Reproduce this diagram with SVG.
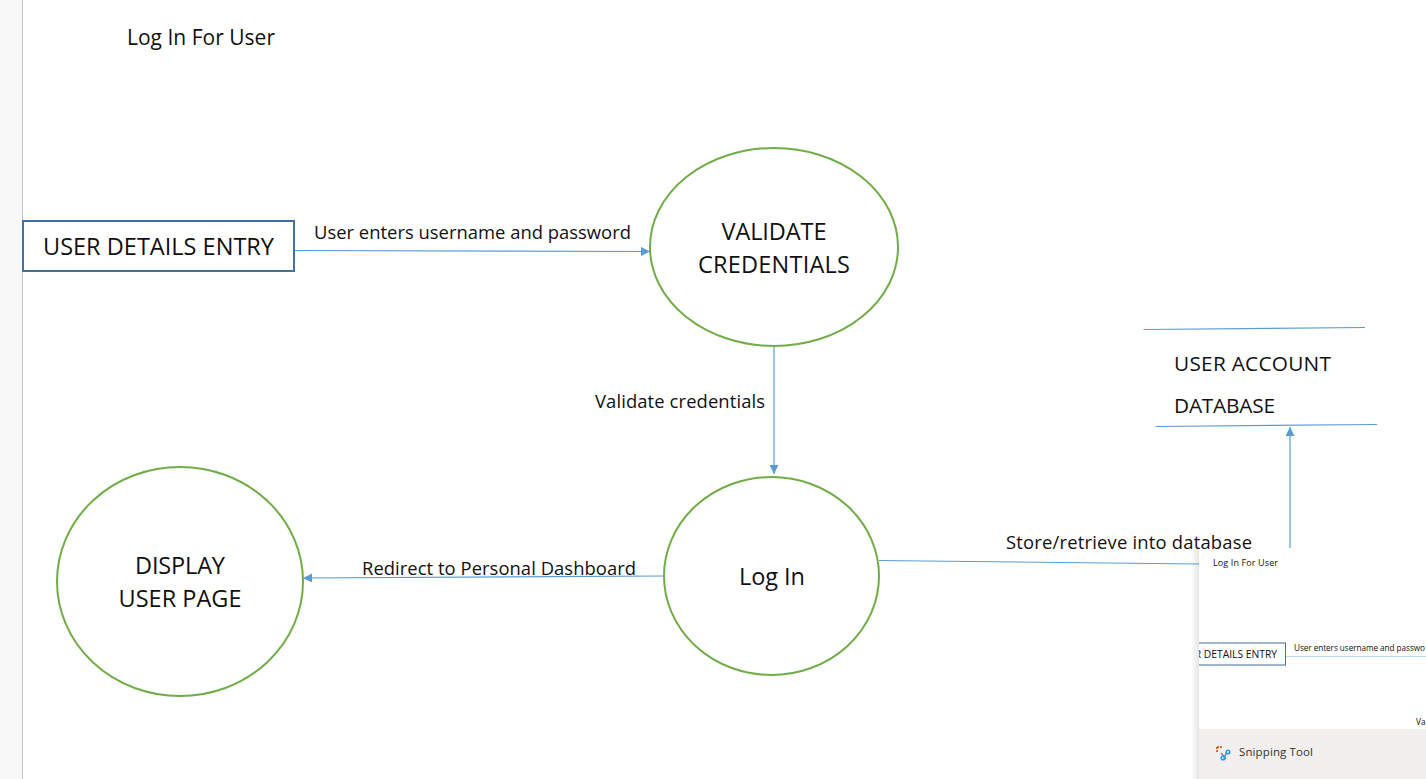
<svg xmlns="http://www.w3.org/2000/svg" width="1426" height="779" viewBox="0 0 1426 779">
<defs>
<marker id="arr" markerWidth="10" markerHeight="10" refX="9" refY="4.5" orient="auto" markerUnits="userSpaceOnUse"><path d="M0,0L9,4.5L0,9Z" fill="#5b9bd5"/></marker>
<linearGradient id="foot" x1="0" y1="0" x2="0" y2="1"><stop offset="0" stop-color="#f1f0ee"/><stop offset="1" stop-color="#f3eeee"/></linearGradient>
<linearGradient id="shade" x1="0" y1="0" x2="1" y2="0"><stop offset="0" stop-color="#000" stop-opacity="0"/><stop offset="1" stop-color="#000" stop-opacity="0.1"/></linearGradient>
<clipPath id="snip"><rect x="1199" y="548" width="227" height="231"/></clipPath>
</defs>
<style>
text{font-family:"Open Sans","Noto Sans","Liberation Sans",sans-serif;fill:#111}
.lbl{font-size:18.400px}
.big{font-size:23.500px;text-anchor:middle}
.ell{fill:#fff;stroke:#70ad47;stroke-width:2}
.con{fill:none;stroke:#5b9bd5;stroke-width:1.2}
</style>
<rect width="1426" height="779" fill="#fff"/>
<rect width="22" height="779" fill="#f8f8f8"/>
<path d="M22.500,0V779" stroke="#c8c8c8" stroke-width="1"/>
<text x="127" y="44.500" textLength="148" style="font-size:21px">Log In For User</text>
<g id="connectors">
<path class="con" d="M295,250.500L650,251.500" marker-end="url(#arr)"/>
<path class="con" d="M774,346V474" marker-end="url(#arr)"/>
<path class="con" d="M664,576L303,578" marker-end="url(#arr)"/>
<path class="con" d="M879,560.500L1199,564"/>
<path class="con" d="M1290,548V427" marker-end="url(#arr)"/>
</g>
<g id="user-details-entry">
<rect x="23" y="221" width="271" height="50" fill="#fff" stroke="#41719c" stroke-width="2"/>
<text class="big" x="158.500" y="255" textLength="231">USER DETAILS ENTRY</text>
</g>
<g id="validate-credentials">
<ellipse class="ell" cx="774" cy="247" rx="124" ry="99"/>
<text class="big" x="774" y="240" textLength="105">VALIDATE</text>
<text class="big" x="774" y="273" textLength="152">CREDENTIALS</text>
</g>
<g id="log-in">
<ellipse class="ell" cx="771.500" cy="576" rx="107.500" ry="99"/>
<text class="big" x="772" y="585" textLength="66">Log In</text>
</g>
<g id="display-user-page">
<ellipse class="ell" cx="180" cy="581.500" rx="123" ry="114.500"/>
<text class="big" x="180" y="574" textLength="90">DISPLAY</text>
<text class="big" x="180" y="607" textLength="123">USER PAGE</text>
</g>
<g id="user-account-database">
<path class="con" d="M1143.500,329.500L1365,327.500"/>
<path class="con" d="M1155.500,426.500L1377,424.500"/>
<text x="1174" y="371" textLength="157" style="font-size:20.800px">USER ACCOUNT</text>
<text x="1174" y="413" textLength="101" style="font-size:20.800px">DATABASE</text>
</g>
<text class="lbl" x="314" y="239" textLength="317">User enters username and password</text>
<text class="lbl" x="595" y="408" textLength="170">Validate credentials</text>
<text class="lbl" x="362" y="575" textLength="274">Redirect to Personal Dashboard</text>
<g id="snip-overlay">
<rect x="1191" y="548" width="8" height="231" fill="url(#shade)"/>
<rect x="1199" y="548" width="227" height="231" fill="#fff"/>
<g clip-path="url(#snip)">
<text x="1213" y="566" textLength="65" style="font-size:9px">Log In For User</text>
<rect x="1170" y="643" width="115.500" height="22" fill="#fff" stroke="#41719c" stroke-width="1"/>
<text x="1277" y="658" style="font-size:10.300px;text-anchor:end">R DETAILS ENTRY</text>
<text x="1294" y="651" textLength="131" style="font-size:8.200px">User enters username and passwo</text>
<path d="M1286,656.500H1426" stroke="#bcd6ee" stroke-width="1"/>
<text x="1416" y="725" style="font-size:8.200px">Va</text>
</g>
<rect x="1199" y="729" width="227" height="50" fill="url(#foot)"/>
<g fill="none" stroke-width="1.500"><path d="M1217,747h6M1217,747v6" stroke="#d83b01" stroke-dasharray="2 1"/><path d="M1221,753l5,6M1226,753l-2,6" stroke="#7a8a99"/><circle cx="1228" cy="752" r="1.800" stroke="#2899f5"/><circle cx="1223" cy="758" r="1.800" stroke="#2899f5"/></g>
<text x="1239" y="756" textLength="74" style="font-size:11.500px;fill:#333">Snipping Tool</text>
</g>
<text class="lbl" x="1006" y="549" textLength="246">Store/retrieve into database</text>
</svg>
